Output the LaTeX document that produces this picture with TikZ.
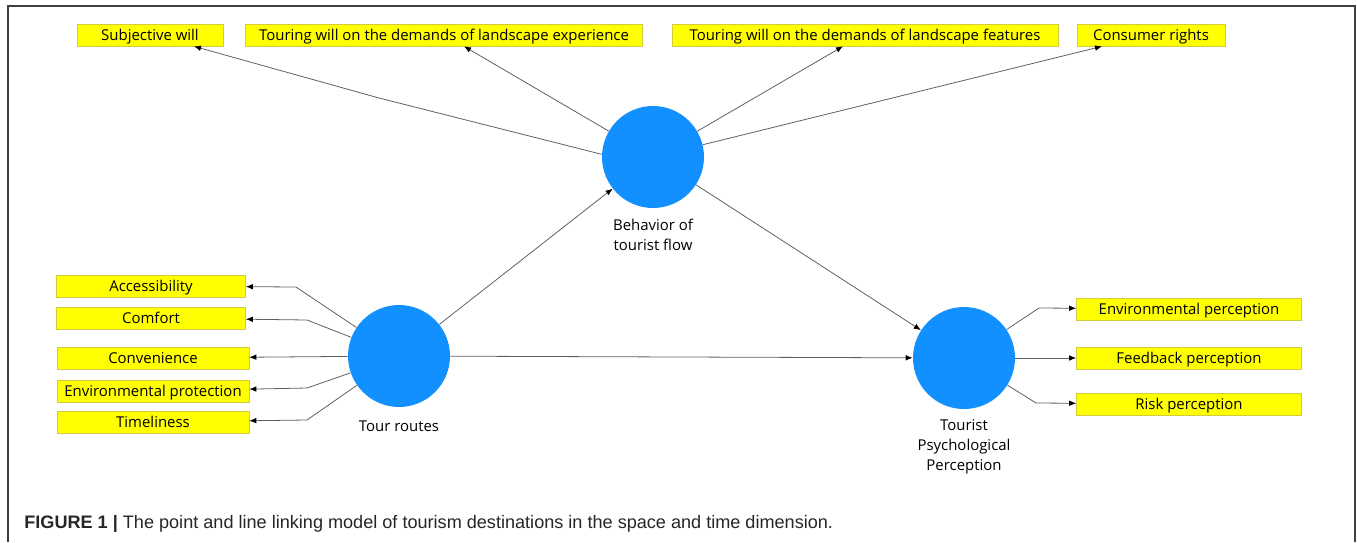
\documentclass[tikz,border=0pt]{standalone}
\usepackage{fontspec}
\setmainfont{Open Sans}
\newfontfamily\capfont{Liberation Sans}
\usetikzlibrary{positioning, arrows.meta}
\definecolor{nodeblue}{RGB}{18,144,255}
\definecolor{boxyellow}{RGB}{255,255,0}
\definecolor{boxedge}{RGB}{210,205,60}
\definecolor{linegray}{RGB}{95,95,95}

\tikzset{
    item/.style={rectangle, draw=boxedge, fill=boxyellow, line width=0.4pt,
        minimum height=0.44cm, inner sep=0pt, text height=7.2pt, text depth=1.5pt,
        font=\fontsize{8.5}{10}\selectfont},
    factor/.style={circle, fill=nodeblue, minimum size=2.04cm, inner sep=0pt},
    flabel/.style={align=center, inner sep=0pt, font=\fontsize{8.5}{11.4}\selectfont},
    link/.style={draw=linegray, line width=0.45pt, -{Latex[length=4pt,width=3.2pt,color=black]}}
}

\begin{document}
\begin{tikzpicture}[x=0.02cm, y=-0.02cm]
        \useasboundingbox (0,0) rectangle (1357,542);
        % Frame
        \draw[black!75, line width=0.85pt] (8,542) -- (8,6) -- (1355,6) -- (1355,542);

        % Latent factors
        \node (bf) [factor] at (653,157) {};
        \node (tr) [factor] at (399,356) {};
        \node (tp) [factor] at (964,358) {};
        \node (bflab) [flabel, below=0.2cm of bf] {Behavior of\\tourist flow};
        \node (trlab) [flabel, below=0.26cm of tr] {Tour routes};
        \node (tplab) [flabel, below=0.2cm of tp] {Tourist\\Psychological\\Perception};

        % Top indicators
        \node (sw) [item, minimum width=2.92cm] at (150,35) {Subjective will};
        \node (exp) [item, minimum width=7.94cm] at (444,35) {Touring will on the demands of landscape experience};
        \node (feat) [item, minimum width=7.72cm] at (865,35) {Touring will on the demands of landscape features};
        \node (cr) [item, minimum width=2.96cm] at (1151,35) {Consumer rights};

        % Left indicators
        \node (acc) [item, minimum width=3.78cm] at (151,286) {Accessibility};
        \node (com) [item, minimum width=3.78cm] at (151,318) {Comfort};
        \node (conv) [item, minimum width=3.84cm] at (153,358) {Convenience};
        \node (envpro) [item, minimum width=3.84cm] at (153,391) {Environmental protection};
        \node (time) [item, minimum width=3.84cm] at (153,422) {Timeliness};

        % Right indicators
        \node (envp) [item, minimum width=4.5cm] at (1189,309) {Environmental perception};
        \node (fb) [item, minimum width=4.5cm] at (1189,358) {Feedback perception};
        \node (risk) [item, minimum width=4.5cm] at (1189,404) {Risk perception};

        % Paths between factors
        \draw[link] (tr) -- (bf);
        \draw[link] (bf) -- (tp);
        \draw[link] (tr) -- (tp);

        % Behavior of tourist flow to its items
        \draw[link] (bf.177) -- (379,98) -- ([xshift=0.88cm]sw.south);
        \draw[link] (bf) -- ([xshift=0.4cm]exp.south);
        \draw[link] (bf) -- ([xshift=-0.44cm]feat.south);
        \draw[link] (bf) -- ([xshift=-0.98cm]cr.south);

        % Tour routes to its items
        \draw[link] (tr) -- (296,287) -- (acc);
        \draw[link] (tr) -- (307,320) -- (com);
        \draw[link] (tr) -- (conv);
        \draw[link] (tr) -- (307,388) -- (envpro);
        \draw[link] (tr) -- (307,420) -- (time);

        % Tourist perception to its items
        \draw[link] (tp) -- (1039,308) -- (envp);
        \draw[link] (tp) -- (fb);
        \draw[link] (tp) -- (1036,403) -- (risk);

        % Caption
        \node (cap) [anchor=west, inner sep=0pt, text=black!85, font=\capfont\fontsize{10.3}{12}\selectfont] at (24,524)
        {\textbf{FIGURE 1 |} The point and line linking model of tourism destinations in the space and time dimension.};
\end{tikzpicture}
\end{document}
